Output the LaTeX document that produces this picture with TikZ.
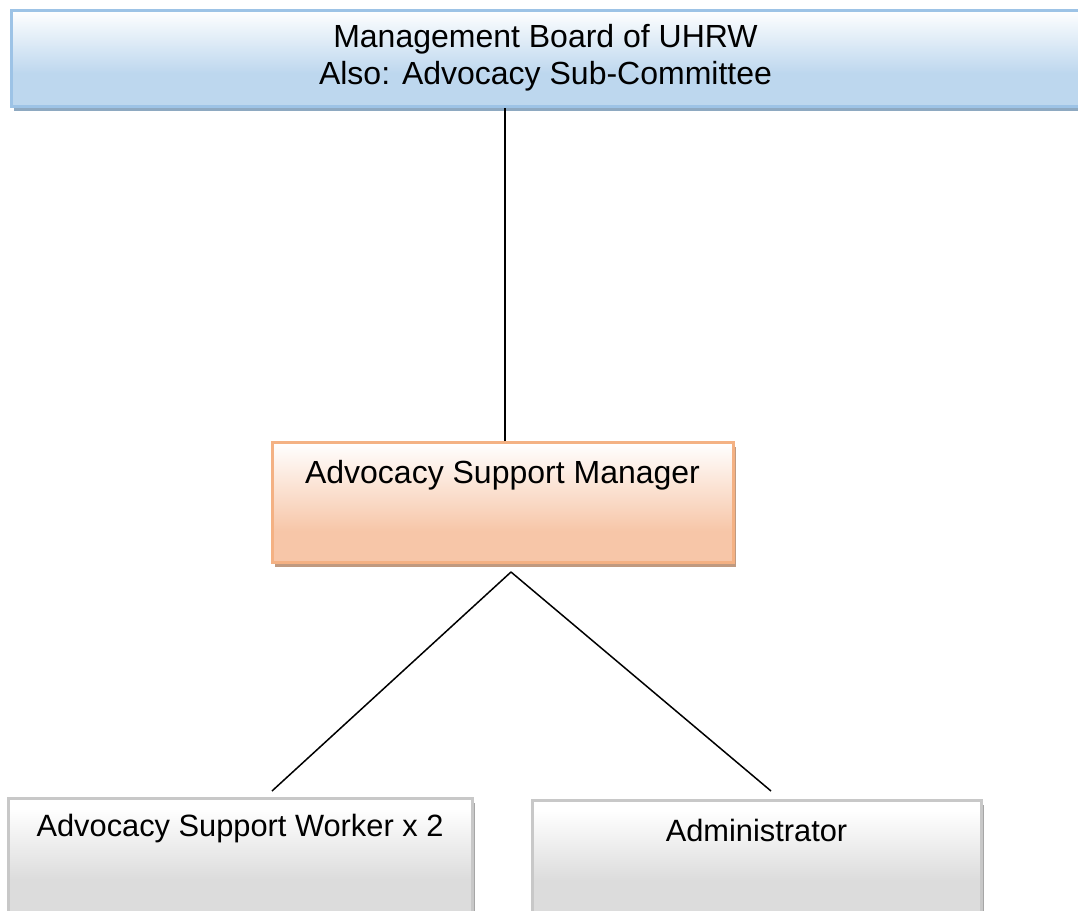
\documentclass[tikz,border=0pt]{standalone}
\usepackage{fontspec}
\setmainfont{Liberation Sans}
\usetikzlibrary{shadows}

\definecolor{boardfill}{RGB}{189,215,238}
\definecolor{boarddraw}{RGB}{157,195,230}
\definecolor{boardshadow}{RGB}{142,169,193}
\definecolor{mgrfill}{RGB}{247,198,168}
\definecolor{mgrdraw}{RGB}{244,177,131}
\definecolor{mgrshadow}{RGB}{192,154,128}
\definecolor{stafffill}{RGB}{220,220,220}
\definecolor{staffdraw}{RGB}{200,200,200}
\definecolor{staffshadow}{RGB}{166,166,166}

\pgfdeclareverticalshading{boardshade}{100bp}{color(0bp)=(boardfill); color(42bp)=(boardfill); color(75bp)=(white); color(100bp)=(white)}
\pgfdeclareverticalshading{mgrshade}{100bp}{color(0bp)=(mgrfill); color(38bp)=(mgrfill); color(75bp)=(white); color(100bp)=(white)}
\pgfdeclareverticalshading{staffshade}{100bp}{color(0bp)=(stafffill); color(50bp)=(stafffill); color(72bp)=(white); color(100bp)=(white)}

\tikzset{
  orgbox/.style={rectangle, inner sep=0pt, line width=1.5pt, align=center,
    font=\fontsize{16}{18.5}\selectfont},
  boardbox/.style={orgbox, draw=boarddraw, shading=boardshade,
    drop shadow={shadow xshift=1.5pt, shadow yshift=-2.5pt, fill=boardshadow, opacity=1}},
  mgrbox/.style={orgbox, draw=mgrdraw, shading=mgrshade,
    drop shadow={shadow xshift=1.5pt, shadow yshift=-2pt, fill=mgrshadow, opacity=1}},
  staffbox/.style={orgbox, draw=staffdraw, shading=staffshade,
    font=\fontsize{15.4}{18}\selectfont,
    drop shadow={shadow xshift=1.5pt, shadow yshift=-2pt, fill=staffshadow, opacity=1}},
  link/.style={draw=black, line width=0.75pt}
}

\begin{document}
\begin{tikzpicture}[x=0.5pt, y=-0.5pt]
  \useasboundingbox (0,0) rectangle (1078,911);
  \clip (0,0) rectangle (1078,911);

  % top of the chart
  \node[boardbox, minimum width=534.5pt, minimum height=48pt] (board) at (545.5,58)
    {Management Board of UHRW\\Also: Advocacy Sub-Committee};

  % manager
  \node[mgrbox, anchor=north, minimum width=230.5pt, text height=20.5pt, text depth=39.5pt] (mgr) at (502.5,441)
    {Advocacy Support Manager};

  % staff
  \node[staffbox, anchor=north, minimum width=232pt, text height=19pt, text depth=62pt] (worker) at (240,797)
    {Advocacy Support Worker x 2};
  \node[staffbox, anchor=north, minimum width=224.5pt, text height=20.5pt, text depth=60pt] (admin) at (756.5,799)
    {Administrator};

  \coordinate (fork) at ([xshift=4.25pt, yshift=-4pt]mgr.south);
  \coordinate (workerend) at ([xshift=16pt, yshift=3pt]worker.north);
  \coordinate (adminend) at ([xshift=7.25pt, yshift=4pt]admin.north);

  \draw[link] ([xshift=1.25pt]mgr.north) -- ([xshift=1.25pt]mgr.north |- board.south);
  \draw[link] (fork) -- (workerend);
  \draw[link] (fork) -- (adminend);
\end{tikzpicture}
\end{document}
